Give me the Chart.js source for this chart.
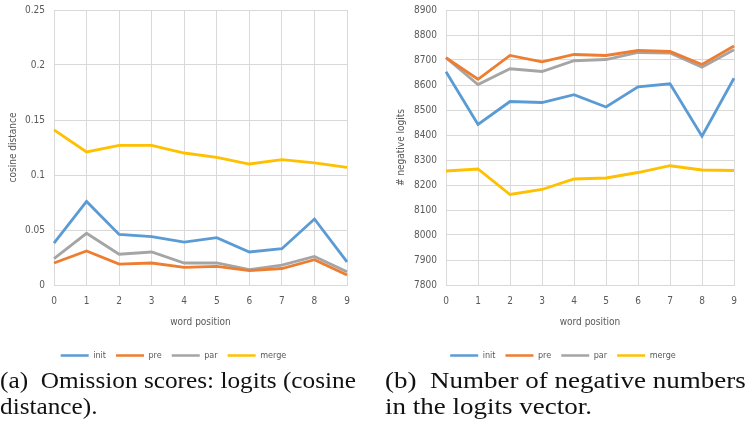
<!DOCTYPE html>
<html>
<head>
<meta charset="utf-8">
<script src="https://cdn.jsdelivr.net/npm/chart.js@4/dist/chart.umd.min.js"></script>
<style>
  html, body { margin: 0; padding: 0; background: #fff; overflow: hidden; }
  body { width: 747px; height: 421px; position: relative; }
  .box { position: absolute; top: -5px; height: 375px; }
  .cap {
    position: absolute; white-space: nowrap; color: #111;
    font-family: "Liberation Serif", "DejaVu Serif", serif; font-size: 24px;
    line-height: 26px; transform-origin: left top;
  }
</style>
</head>
<body>
<div class="box" style="left:0; width:370px;"><canvas id="left-chart"></canvas></div>
<div class="box" style="left:392px; width:355px;"><canvas id="right-chart"></canvas></div>
<div class="cap" style="left:0; top:367px; transform:scaleX(1.053);">(a)&nbsp; Omission scores: logits (cosine<br>distance).</div>
<div class="cap" style="left:385px; top:367px; transform:scaleX(1.125);">(b)&nbsp; Number of negative numbers<br>in the logits vector.</div>
<script>
  const positions = ['0', '1', '2', '3', '4', '5', '6', '7', '8', '9'];

  // (a) omission scores, cosine distance
  const cosTicks = ['0', '0.05', '0.1', '0.15', '0.2', '0.25'];
  const cosInit = [0.038, 0.076, 0.046, 0.044, 0.039, 0.043, 0.030, 0.033, 0.060, 0.021];
  const cosPre = [0.020, 0.031, 0.019, 0.020, 0.016, 0.017, 0.013, 0.015, 0.023, 0.009];
  const cosPar = [0.024, 0.047, 0.028, 0.030, 0.020, 0.020, 0.014, 0.018, 0.026, 0.012];
  const cosMerge = [0.141, 0.121, 0.127, 0.127, 0.120, 0.116, 0.110, 0.114, 0.111, 0.107];

  // (b) number of negative logits
  const negTicks = ['7800', '7900', '8000', '8100', '8200', '8300', '8400', '8500', '8600', '8700', '8800', '8900'];
  const negInit = [8653, 8442, 8534, 8530, 8561, 8512, 8593, 8605, 8395, 8627];
  const negPre = [8709, 8623, 8718, 8693, 8722, 8718, 8738, 8734, 8682, 8756];
  const negPar = [8709, 8602, 8665, 8654, 8697, 8702, 8730, 8728, 8671, 8741];
  const negMerge = [8256, 8264, 8162, 8182, 8224, 8228, 8250, 8277, 8260, 8258];

  const seriesNames = ['init', 'pre', 'par', 'merge'];
  const seriesColors = ['#5B9BD5', '#ED7D31', '#A5A5A5', '#FFC000'];

  const grey = '#595959';
  const gridColor = '#D9D9D9';
  const axisFont = { family: '"Liberation Sans Narrow", "DejaVu Sans Condensed", sans-serif', size: 10 };

  function makeDatasets(lists) {
    return lists.map((values, i) => ({
      label: seriesNames[i],
      data: values,
      borderColor: seriesColors[i],
      backgroundColor: seriesColors[i],
      borderWidth: 2.8,
      pointRadius: 0,
      tension: 0,
    }));
  }

  function drawChart(canvasId, lists, tickLabels, yTitle, yStep, titlePad, rightPad) {
    const ctx = document.getElementById(canvasId).getContext('2d');
    new Chart(ctx, {
      type: 'line',
      data: { labels: positions, datasets: makeDatasets(lists) },
      options: {
        responsive: true,
        maintainAspectRatio: false,
        animation: false,
        layout: { padding: { top: 0, right: rightPad, left: 0, bottom: 0 } },
        plugins: {
          tooltip: { enabled: false },
          legend: {
            position: 'bottom',
            labels: {
              font: { family: axisFont.family, size: 9 },
              color: grey,
              boxWidth: 28,
              boxHeight: 2.5,
              padding: 10,
              generateLabels: (chart) =>
                Chart.defaults.plugins.legend.labels.generateLabels(chart).map((item) => ({
                  ...item,
                  lineWidth: 0,
                  fillStyle: seriesColors[item.datasetIndex],
                })),
            },
          },
        },
        scales: {
          x: {
            offset: false,
            grid: { color: gridColor, drawTicks: false },
            border: { color: gridColor },
            ticks: { color: grey, font: axisFont, padding: 10, maxRotation: 0 },
            title: { display: true, text: 'word position', color: grey, font: axisFont, padding: { top: 4, bottom: 13 } },
            afterFit: (scale) => { scale.height = 56; },
          },
          y: {
            min: Number(tickLabels[0]),
            max: Number(tickLabels[tickLabels.length - 1]),
            grid: { color: gridColor, drawTicks: false },
            border: { display: false },
            ticks: {
              stepSize: yStep,
              color: grey,
              font: axisFont,
              padding: 9,
              callback: (value, index) => tickLabels[index],
            },
            title: { display: true, text: yTitle, color: grey, font: axisFont, padding: titlePad },
            afterFit: (scale) => { scale.width = 54; },
          },
        },
      },
    });
  }

  drawChart('left-chart', [cosInit, cosPre, cosPar, cosMerge], cosTicks, 'cosine distance', 0.05, 7, 23);
  drawChart('right-chart', [negInit, negPre, negPar, negMerge], negTicks, '# negative logits', 100, 3, 13);
</script>
</body>
</html>
